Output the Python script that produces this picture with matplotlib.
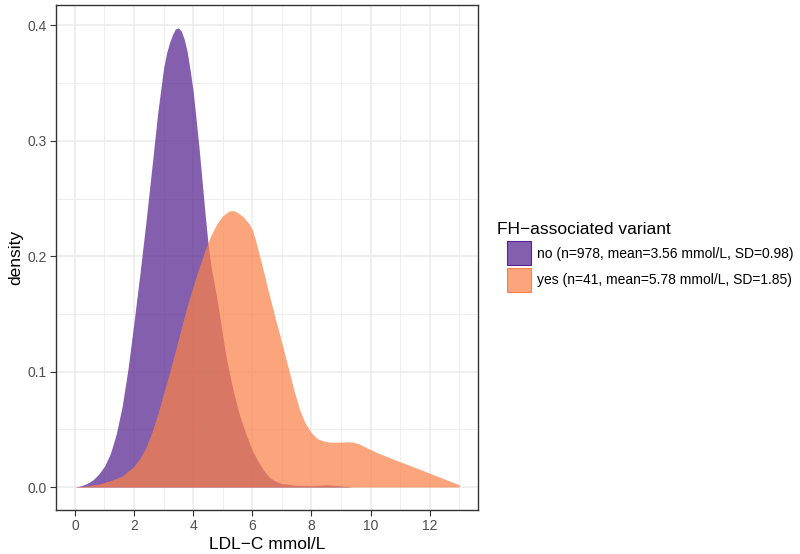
import numpy as np
import matplotlib
matplotlib.use("Agg")
import matplotlib.pyplot as plt
from matplotlib.patches import Rectangle

plt.rcParams['font.family'] = ['Liberation Sans', 'DejaVu Sans']

# density curves (LDL-C mmol/L -> density)
no_x = [0.0, 0.2, 0.4, 0.6, 0.8, 1.0, 1.2, 1.4, 1.6, 1.8, 2.0, 2.2, 2.4, 2.6, 2.8,
        3.0, 3.1, 3.2, 3.3, 3.4, 3.5, 3.6, 3.7, 3.8, 3.9, 4.0, 4.1, 4.2, 4.3, 4.4,
        4.5, 4.6, 4.7, 4.8, 4.9, 5.0, 5.1, 5.2, 5.3, 5.4, 5.5, 5.6, 5.8, 6.0, 6.2,
        6.4, 6.6, 6.8, 7.0, 7.5, 8.0, 8.5, 9.0, 9.4]
no_y = [0.0, 0.001, 0.003, 0.006, 0.011, 0.018, 0.029, 0.046, 0.070, 0.103, 0.143,
        0.185, 0.229, 0.276, 0.324, 0.363, 0.376, 0.385, 0.392, 0.397, 0.398, 0.395,
        0.388, 0.377, 0.361, 0.343, 0.319, 0.294, 0.266, 0.238, 0.212, 0.192, 0.178,
        0.164, 0.148, 0.131, 0.115, 0.102, 0.090, 0.079, 0.069, 0.060, 0.045, 0.032,
        0.022, 0.014, 0.008, 0.005, 0.003, 0.0015, 0.0012, 0.002, 0.001, 0.0]

yes_x = [0.0, 0.4, 0.8, 1.2, 1.6, 2.0, 2.2, 2.4, 2.6, 2.8, 3.0, 3.2, 3.4, 3.6, 3.8,
         4.0, 4.2, 4.4, 4.6, 4.8, 5.0, 5.2, 5.35, 5.5, 5.7, 5.9, 6.0, 6.1, 6.2, 6.3,
         6.4, 6.5, 6.6, 6.7, 6.8, 7.0, 7.2, 7.4, 7.6, 7.8, 8.0, 8.2, 8.4, 8.6, 8.8,
         9.0, 9.2, 9.4, 9.6, 9.8, 10.0, 10.2, 10.5, 10.8, 11.2, 11.6, 12.0, 12.4,
         12.7, 13.0]
yes_y = [0.0, 0.001, 0.0025, 0.0055, 0.0095, 0.018, 0.025, 0.034, 0.047, 0.063, 0.081,
         0.099, 0.118, 0.138, 0.157, 0.174, 0.190, 0.205, 0.218, 0.228, 0.235, 0.239,
         0.2397, 0.238, 0.234, 0.228, 0.223, 0.215, 0.205, 0.195, 0.185, 0.174, 0.164,
         0.154, 0.144, 0.125, 0.105, 0.085, 0.067, 0.055, 0.047, 0.042, 0.040, 0.039,
         0.0388, 0.039, 0.0392, 0.039, 0.0375, 0.035, 0.0325, 0.030, 0.027, 0.0238,
         0.020, 0.016, 0.012, 0.008, 0.005, 0.002]

labels = ["no (n=978, mean=3.56 mmol/L, SD=0.98)",
          "yes (n=41, mean=5.78 mmol/L, SD=1.85)"]
colors = ["#55228f", "#fb8149"]
alpha = 0.72

fig = plt.figure(figsize=(8, 5.54), dpi=100)
ax = fig.add_axes([0.0696, 0.0794, 0.5284, 0.9121])

for xs, ys, c in [(no_x, no_y, colors[0]), (yes_x, yes_y, colors[1])]:
    ax.fill_between(xs, 0, ys, color=c, alpha=alpha, linewidth=0, zorder=3)

ax.set_xlim(-0.65, 13.65)
ax.set_ylim(-0.0199, 0.418)
ax.set_xticks(np.arange(0, 13, 2))
ax.set_xticks(np.arange(1, 14, 2), minor=True)
ax.set_yticks(np.arange(0, 0.41, 0.1))
ax.set_yticks(np.arange(0.05, 0.4, 0.1), minor=True)
ax.set_yticklabels(["0.0", "0.1", "0.2", "0.3", "0.4"])
ax.grid(which="major", color="#ebebeb", linewidth=1.1, zorder=0)
ax.grid(which="minor", color="#ebebeb", linewidth=0.55, zorder=0)
ax.set_axisbelow(True)
ax.tick_params(which="major", length=4, width=0.8, color="#333333",
               labelsize=10, labelcolor="#4d4d4d", pad=2.5)
ax.tick_params(which="minor", length=0)
for s in ax.spines.values():
    s.set_color("#333333")
    s.set_linewidth(1.0)

ax.set_xlabel("LDL\u2212C mmol/L", fontsize=12.5, labelpad=3)
ax.set_ylabel("density", fontsize=12.5, labelpad=3)

# legend
fig.text(497 / 800, 1 - 229 / 554, "FH\u2212associated variant", fontsize=12.5,
         va="center", ha="left")
for i, (lab, c) in enumerate(zip(labels, colors)):
    top = 241 + i * 26.5
    rect = Rectangle((507 / 800, 1 - (top + 24.5) / 554), 24 / 800, 24.5 / 554,
                     transform=fig.transFigure, facecolor=c, alpha=alpha,
                     edgecolor="none")
    fig.add_artist(rect)
    edge = Rectangle((507 / 800, 1 - (top + 24.5) / 554), 24 / 800, 24.5 / 554,
                     transform=fig.transFigure, facecolor="none",
                     edgecolor=c, linewidth=0.8)
    fig.add_artist(edge)
    fig.text(537 / 800, 1 - (top + 12.5) / 554, lab, fontsize=10,
             va="center", ha="left")

fig.savefig("out.png", dpi=100)
